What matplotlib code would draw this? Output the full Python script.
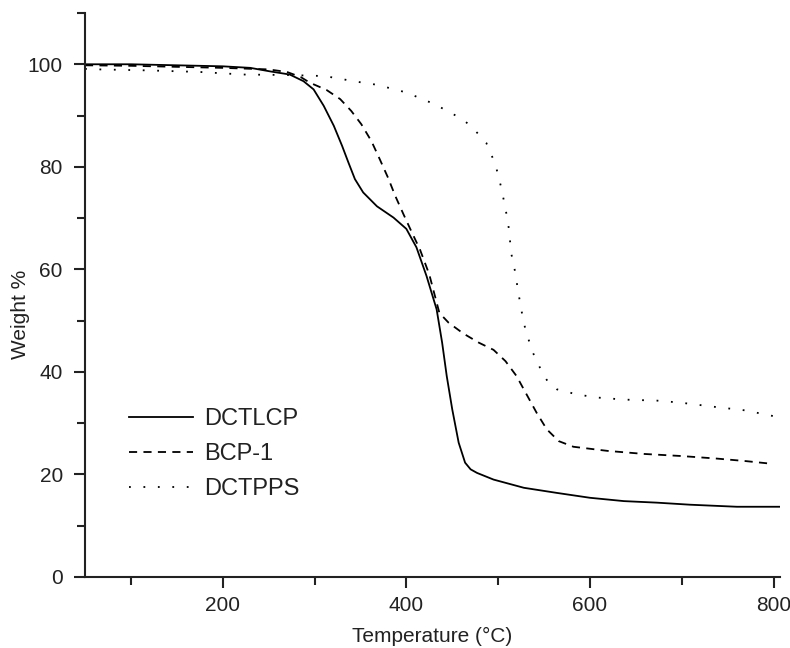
import matplotlib
matplotlib.use("Agg")
import matplotlib.pyplot as plt
from matplotlib.ticker import MultipleLocator

plt.rcParams['font.family'] = ['Liberation Sans', 'DejaVu Sans']

# DCTLCP (solid)
temp_dctlcp = [50, 100, 150, 200, 230, 252, 273, 288, 299, 310, 321, 330, 337, 344, 353, 368,
               386, 400, 411, 422, 433, 439, 444, 450, 457, 464, 470, 477, 495, 528, 564, 600,
               637, 673, 709, 760, 807]
weight_dctlcp = [100, 100, 99.8, 99.6, 99.3, 98.6, 98.0, 96.7, 95.1, 91.9, 88.0, 84.1, 80.8, 77.6,
                 75.0, 72.3, 70.1, 67.9, 64.3, 58.7, 52.2, 45.7, 39.2, 32.7, 26.2, 22.3, 21.0,
                 20.3, 19.0, 17.4, 16.4, 15.45, 14.8, 14.5, 14.1, 13.7, 13.7]

# BCP-1 (dashed)
temp_bcp1 = [50, 100, 150, 200, 250, 270, 285, 295, 313, 328, 340, 351, 362, 371, 380, 388, 397,
             405, 415, 425, 436, 446, 462, 479, 495, 508, 520, 531, 542, 553, 566, 582, 619, 659,
             699, 738, 770, 797]
weight_bcp1 = [99.8, 99.7, 99.5, 99.3, 99.0, 98.5, 97.5, 96.4, 95.0, 93.2, 90.9, 88.3, 85.0, 81.5,
               77.9, 74.3, 70.7, 67.6, 63.8, 59.0, 51.5, 49.6, 47.5, 45.7, 44.3, 42.1, 39.2, 35.6,
               32.0, 28.8, 26.5, 25.4, 24.6, 24.0, 23.6, 23.1, 22.6, 22.1]

# DCTPPS (dotted)
temp_dctpps = [50, 66, 120, 175, 222, 273, 311, 346, 368, 400, 431, 459, 468, 479, 487, 497, 503,
               508, 512, 514, 517, 519, 521, 525, 530, 538, 549, 555, 564, 586, 608, 637, 673, 699,
               735, 769, 802]
weight_dctpps = [99.1, 99.0, 98.8, 98.5, 98.0, 97.9, 97.7, 96.6, 96.0, 94.5, 92.2, 89.5, 88.3, 86.3,
                 84.7, 80.5, 76.2, 71.9, 67.6, 63.3, 60.9, 59.0, 56.6, 52.3, 48.0, 43.7, 39.5, 37.9,
                 36.6, 35.6, 35.0, 34.6, 34.4, 34.0, 33.2, 32.5, 31.3]

x_ticks = [200, 400, 600, 800]
y_ticks = [0, 20, 40, 60, 80, 100]

fig = plt.figure(figsize=(7.9, 6.48), dpi=100)
ax = fig.add_axes([85/790, (648-577)/648, (780-85)/790, (577-13)/648])

lw = 1.3
ax.plot(temp_dctlcp, weight_dctlcp, color='black', lw=lw, ls='-', label='DCTLCP')
ax.plot(temp_bcp1, weight_bcp1, color='black', lw=lw, ls=(0, (4.5, 3.5)), label='BCP-1')
ax.plot(temp_dctpps, weight_dctpps, color='black', lw=lw, ls=(0, (1, 7)), label='DCTPPS')

ax.set_xlim(50, 807)
ax.set_ylim(0, 110)
ax.set_xticks(x_ticks)
ax.set_yticks(y_ticks)
ax.xaxis.set_minor_locator(MultipleLocator(100))
ax.yaxis.set_minor_locator(MultipleLocator(10))

for s in ['top', 'right']:
    ax.spines[s].set_visible(False)
for s in ['left', 'bottom']:
    ax.spines[s].set_linewidth(1.5)
    ax.spines[s].set_color('#222222')

ax.tick_params(which='major', direction='out', length=8, width=1.5, labelsize=15,
               colors='#222222')
ax.tick_params(which='minor', direction='out', length=6, width=1.5, colors='#222222')
ax.tick_params(axis='y', which='major', pad=8)
ax.tick_params(axis='x', which='major', pad=6)

ax.set_xlabel('Temperature (°C)', fontsize=15, color='#222222', labelpad=8)
ax.set_ylabel('Weight %', fontsize=15, color='#222222')
ax.yaxis.set_label_coords(-0.079, 0.465)

leg = ax.legend(loc='upper left', bbox_to_anchor=(0.064, 0.30), frameon=False,
                fontsize=17, handlelength=2.7, handletextpad=0.45, labelspacing=0.55,
                borderpad=0, borderaxespad=0)
for t in leg.get_texts():
    t.set_color('#222222')

fig.savefig('out.png', dpi=100)
